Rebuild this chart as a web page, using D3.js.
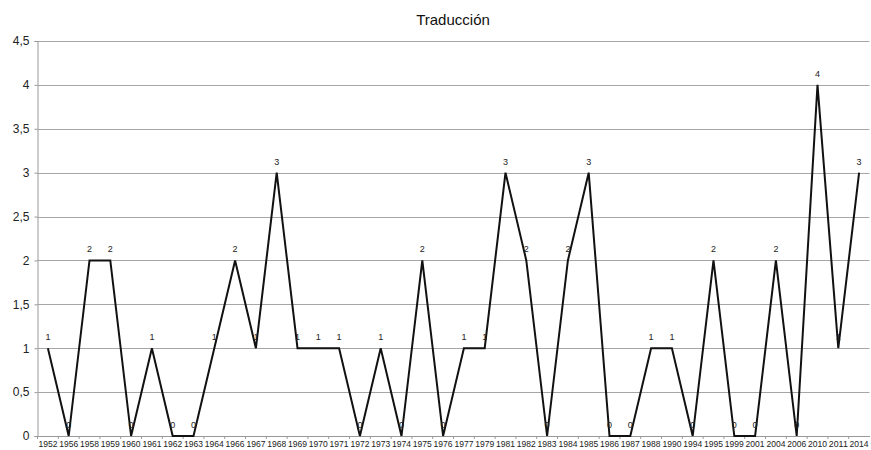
<!DOCTYPE html>
<html>
<head>
<meta charset="utf-8">
<script src="https://cdn.jsdelivr.net/npm/d3@7"></script>
<style>
  body { margin: 0; background: #fff; }
  text { font-family: "Liberation Sans", Arial, sans-serif; }
</style>
</head>
<body>
<div id="chart"></div>
<script>
// data
var years = ["1952","1956","1958","1959","1960","1961","1962","1963","1964","1966",
  "1967","1968","1969","1970","1971","1972","1973","1974","1975","1976",
  "1977","1979","1981","1982","1983","1984","1985","1986","1987","1988",
  "1990","1994","1995","1999","2001","2004","2006","2010","2011","2014"];
var counts = [1,0,2,2,0,1,0,0,1,2,
  1,3,1,1,1,0,1,0,2,0,
  1,1,3,2,0,2,3,0,0,1,
  1,0,2,0,0,2,0,4,1,3];
var yTicks = [0, 0.5, 1, 1.5, 2, 2.5, 3, 3.5, 4, 4.5];
var title = "Traducción";

var width = 871, height = 450;
var margin = {top: 41, right: 1.5, bottom: 14, left: 37.5};

var svg = d3.select("#chart").append("svg")
    .attr("width", width)
    .attr("height", height);

var x = d3.scaleBand()
    .domain(years)
    .range([margin.left, width - margin.right]);

var y = d3.scaleLinear()
    .domain([0, 4.5])
    .range([height - margin.bottom, margin.top]);

// gridlines
svg.append("g")
  .selectAll("line")
  .data(yTicks)
  .enter().append("line")
    .attr("x1", margin.left)
    .attr("x2", width - margin.right)
    .attr("y1", function(d){ return Math.round(y(d)) + 0.5; })
    .attr("y2", function(d){ return Math.round(y(d)) + 0.5; })
    .attr("stroke", "#a6a6a6")
    .attr("stroke-width", 1.2);

// y axis
var yAxis = d3.axisLeft(y)
    .tickValues(yTicks)
    .tickSize(3)
    .tickFormat(function(d){ return String(d).replace(".", ","); });
var gy = svg.append("g")
    .attr("transform", "translate(" + margin.left + ",0)")
    .call(yAxis);
gy.select(".domain").attr("stroke", "#999");
gy.selectAll(".tick line").attr("stroke", "#999");
gy.selectAll(".tick text")
    .attr("font-size", 12)
    .attr("fill", "#222")
    .attr("x", -8)
    .attr("font-family", "Liberation Sans, Arial, sans-serif");

// x axis
var xAxis = d3.axisBottom(x).tickSize(3).tickSizeOuter(0);
var gx = svg.append("g")
    .attr("transform", "translate(0," + (height - margin.bottom) + ")")
    .call(xAxis);
gx.select(".domain").attr("stroke", "#999");
gx.selectAll(".tick line").attr("stroke", "#999")
    .attr("transform", "translate(" + (-x.bandwidth()/2) + ",0)");
gx.selectAll(".tick text")
    .attr("font-size", 9)
    .attr("fill", "#222")
    .attr("y", 5)
    .attr("dy", "0.71em")
    .attr("textLength", 19)
    .attr("lengthAdjust", "spacingAndGlyphs")
    .attr("font-family", "Liberation Sans, Arial, sans-serif");

// the series line
var line = d3.line()
    .x(function(d, i){ return x(years[i]) + x.bandwidth()/2; })
    .y(function(d){ return y(d); });

svg.append("path")
    .datum(counts)
    .attr("fill", "none")
    .attr("stroke", "#111")
    .attr("stroke-width", 2)
    .attr("stroke-linejoin", "miter")
    .attr("d", line);

// value labels
svg.append("g")
  .selectAll("text")
  .data(counts)
  .enter().append("text")
    .attr("x", function(d, i){ return x(years[i]) + x.bandwidth()/2; })
    .attr("y", function(d){ return y(d) - 8; })
    .attr("text-anchor", "middle")
    .attr("font-size", 9)
    .attr("fill", "#222")
    .text(function(d){ return d; });

// title
svg.append("text")
    .attr("x", 453)
    .attr("y", 25)
    .attr("text-anchor", "middle")
    .attr("font-size", 15)
    .attr("fill", "#111")
    .text(title);
</script>
</body>
</html>
